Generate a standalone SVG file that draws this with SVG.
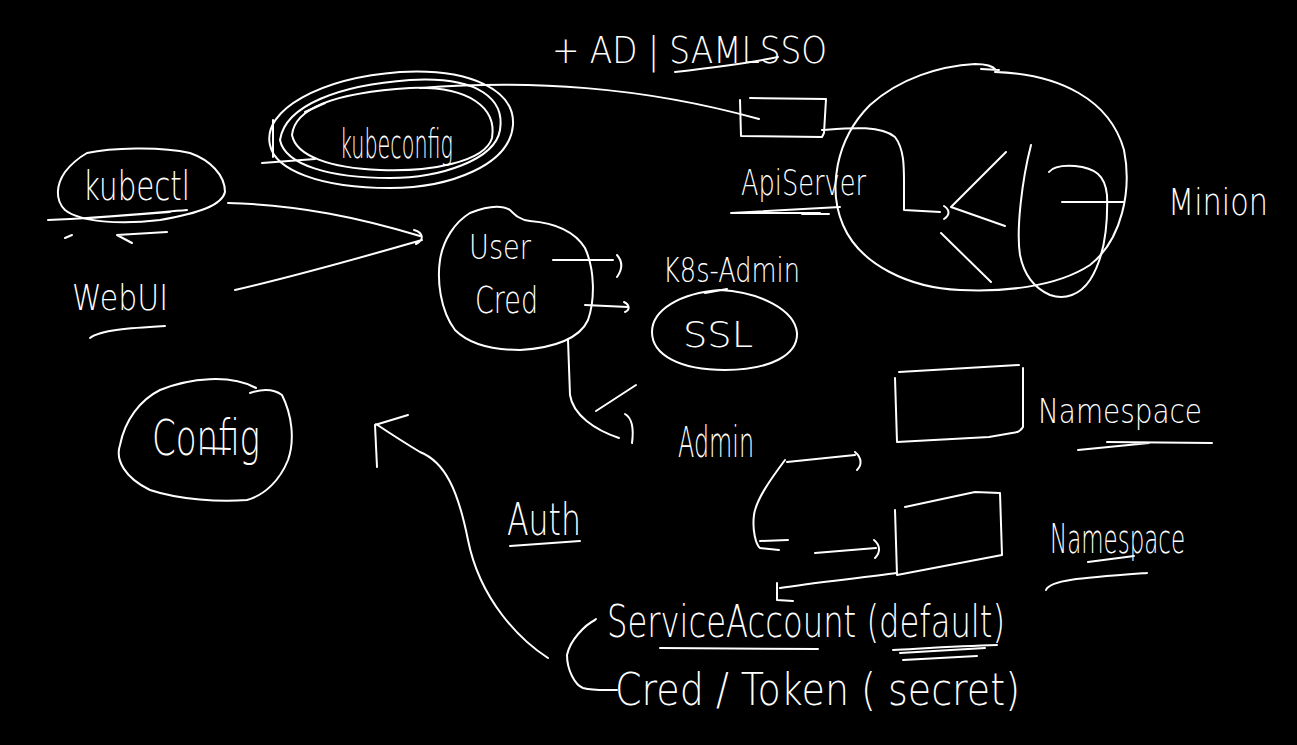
<svg xmlns="http://www.w3.org/2000/svg" width="1297" height="745" viewBox="0 0 1297 745">
<style>
.s{fill:none;stroke:#fff;stroke-width:2;stroke-linecap:round;stroke-linejoin:round}
.t{fill:#fff;font-family:"DejaVu Sans","Liberation Sans",sans-serif;font-weight:200}
</style>
<rect width="1297" height="745" fill="#000"/>
<g id="title">
<text class="t" x="552" y="63" font-size="38" textLength="275" lengthAdjust="spacingAndGlyphs">+ AD | SAMLSSO</text>
<path class="s" d="M675,72 C710,68 745,64 778,57"/>
</g>
<g id="kubeconfig">
<path class="s" d="M270,145 C262,110 320,78 400,72 C470,68 515,90 513,125 C510,165 450,188 390,188 C320,188 275,170 270,145 Z"/>
<path class="s" d="M280,140 C285,105 340,85 410,80 C480,76 505,100 500,130 C495,160 440,178 390,178 C330,178 285,165 280,140 Z"/>
<path class="s" d="M292,135 C295,105 345,92 410,88 C470,86 497,108 492,138 C485,162 430,172 380,170 C330,168 296,156 292,135"/>
<path class="s" d="M305,112 L325,103 M273,120 L273,157 M262,163 L315,159"/>
<text class="t" x="340" y="158" font-size="40" textLength="113" lengthAdjust="spacingAndGlyphs">kubeconfig</text>
</g>
<g id="kubectl">
<path class="s" d="M87,153 C110,148 160,146 190,153 C210,160 225,175 225,192 C222,205 200,213 160,220 C120,225 80,222 65,210 C55,200 56,185 65,172 C72,163 80,157 87,153 Z"/>
<path class="s" d="M48,220 C100,218 150,213 187,210 M90,218 L170,212 M65,238 L72,235 M167,232 L117,235 L132,243"/>
<text class="t" x="83" y="200" font-size="40" textLength="107" lengthAdjust="spacingAndGlyphs">kubectl</text>
</g>
<g id="webui">
<text class="t" x="72" y="310" font-size="36" textLength="96" lengthAdjust="spacingAndGlyphs">WebUI</text>
<path class="s" d="M90,338 C100,330 130,328 165,326"/>
</g>
<g id="usercred">
<path class="s" d="M470,213 C485,207 500,204 510,210 C515,215 520,220 530,221 C555,223 575,232 585,248 C595,270 595,300 588,320 C580,338 555,348 520,350 C495,350 470,345 455,330 C440,310 437,280 440,260 C443,240 455,222 470,213 Z"/>
<text class="t" x="469" y="259" font-size="34" textLength="62" lengthAdjust="spacingAndGlyphs">User</text>
<text class="t" x="475" y="313" font-size="38" textLength="63" lengthAdjust="spacingAndGlyphs">Cred</text>
</g>
<g id="k8sadmin">
<text class="t" x="663" y="282" font-size="34" textLength="137" lengthAdjust="spacingAndGlyphs">K8s-Admin</text>
</g>
<g id="ssl">
<path class="s" d="M720,290 C760,292 795,310 797,333 C798,355 770,370 725,370 C680,370 652,355 652,332 C652,310 680,293 720,290 M705,293 L727,289"/>
<text class="t" x="683" y="347" font-size="36" textLength="70" lengthAdjust="spacingAndGlyphs">SSL</text>
</g>
<g id="apiserver">
<path class="s" d="M740,100 L741,136 L822,137 L824,133 L826,99 L750,98"/>
<text class="t" x="741" y="195" font-size="36" textLength="125" lengthAdjust="spacingAndGlyphs">ApiServer</text>
<path class="s" d="M731,213 L840,207 M732,213 L820,213 M802,214 L829,214"/>
</g>
<g id="minion-cluster">
<path class="s" d="M995,72 C1060,74 1110,100 1124,150 C1132,190 1122,240 1090,265 C1055,288 1000,292 960,290 C910,288 860,265 843,225 C828,190 835,140 870,105 C900,78 940,66 975,64 C985,64 993,66 996,70 M981,69 L999,70"/>
<path class="s" d="M1031,145 C1022,180 1016,230 1020,255 C1024,275 1034,288 1050,295 C1065,300 1080,295 1090,280 C1104,258 1108,225 1107,195 C1105,175 1095,168 1075,166 C1060,165 1052,168 1049,172"/>
<path class="s" d="M1062,202 L1124,202 M1006,152 L951,207 L1005,226 M941,233 L991,282"/>
</g>
<g id="minion">
<text class="t" x="1168" y="215" font-size="38" textLength="100" lengthAdjust="spacingAndGlyphs">Minion</text>
</g>
<g id="config">
<path class="s" d="M250,393 C265,388 275,390 282,395 C292,415 295,440 288,460 C280,480 265,495 247,500 C220,502 180,500 150,490 C125,478 115,460 120,445 C125,420 140,400 160,390 C190,378 230,374 256,388 M203,448 L230,449"/>
<text class="t" x="152" y="455" font-size="50" textLength="108" lengthAdjust="spacingAndGlyphs">Config</text>
</g>
<g id="admin">
<text class="t" x="678" y="457" font-size="42" textLength="76" lengthAdjust="spacingAndGlyphs">Admin</text>
</g>
<g id="namespace1">
<path class="s" d="M899,372 L1019,365 M1023,368 L1023,427 C1020,432 1016,433 1012,433 L989,437 L897,442 L895,378"/>
<text class="t" x="1038" y="423" font-size="34" textLength="164" lengthAdjust="spacingAndGlyphs">Namespace</text>
<path class="s" d="M1078,450 L1149,443 M1107,442 L1212,443"/>
</g>
<g id="namespace2">
<path class="s" d="M905,507 L975,492 L1000,493 L1002,555 L897,575 M895,510 L897,575"/>
<text class="t" x="1050" y="553" font-size="40" textLength="135" lengthAdjust="spacingAndGlyphs">Namespace</text>
<path class="s" d="M1088,562 L1134,556 M1046,590 C1050,580 1080,578 1147,573"/>
</g>
<g id="auth">
<text class="t" x="507" y="535" font-size="44" textLength="74" lengthAdjust="spacingAndGlyphs">Auth</text>
<path class="s" d="M510,546 L580,541"/>
</g>
<g id="serviceaccount">
<text class="t" x="607" y="637" font-size="44" textLength="398" lengthAdjust="spacingAndGlyphs">ServiceAccount (default)</text>
<path class="s" d="M660,648 L818,649 M893,650 C930,648 960,646 997,645 M900,653 L985,648 M903,660 L977,656"/>
</g>
<g id="token">
<text class="t" x="615" y="705" font-size="44" textLength="405" lengthAdjust="spacingAndGlyphs">Cred / Token ( secret)</text>
</g>
<g id="connectors">
<path class="s" d="M420,88 C530,80 640,86 759,119"/>
<path class="s" d="M822,130 C850,128 880,125 895,137 C905,150 904,170 904,190 L904,210 L940,212 M944,206 C950,210 950,215 944,219"/>
<path class="s" d="M228,203 C300,205 360,218 420,236 M235,290 C300,275 370,255 422,240 M414,230 C424,233 424,240 416,244"/>
<path class="s" d="M553,260 L613,260 M617,255 C623,262 622,270 617,277"/>
<path class="s" d="M585,305 L628,307 M624,302 C630,305 630,310 625,312"/>
<path class="s" d="M568,340 L570,395 C573,415 595,430 619,438 M625,414 C632,418 634,428 632,443 M596,411 L636,385"/>
<path class="s" d="M787,462 L855,455 M855,452 C862,458 862,465 857,470"/>
<path class="s" d="M785,460 C770,480 756,500 754,515 C752,530 756,545 760,548 L779,550 M760,541 L788,540"/>
<path class="s" d="M815,553 L876,548 M874,540 C880,545 881,552 875,558"/>
<path class="s" d="M897,573 C860,578 810,583 780,588 M777,583 L777,600 L793,601"/>
<path class="s" d="M595,620 C585,625 570,640 567,655 C567,670 575,685 583,688 C595,691 605,690 617,690 M587,625 L596,619"/>
<path class="s" d="M548,658 C520,640 480,600 468,540 C458,490 445,462 420,452 C400,440 388,432 376,424 M377,467 L375,425 L408,415"/>
</g>
</svg>
